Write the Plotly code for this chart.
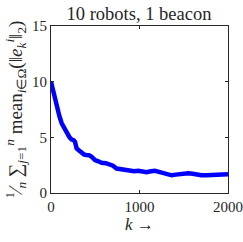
import plotly.graph_objects as go

steps = [0, 30, 64, 95, 121, 150, 177, 210, 233, 255, 271, 290, 320, 346, 375, 403, 430, 459, 497, 535, 572, 620, 666, 700, 741, 780, 817, 850, 892, 940, 986, 1030, 1080, 1130, 1174, 1220, 1268, 1320, 1363, 1410, 1457, 1500, 1551, 1600, 1645, 1700, 1758, 1810, 1871, 1930, 2000]
err = [10.0, 8.9, 7.6, 6.9, 6.26, 5.8, 5.36, 5.0, 4.8, 4.75, 4.6, 4.0, 3.8, 3.57, 3.45, 3.41, 3.4, 3.26, 2.96, 2.85, 2.72, 2.68, 2.6, 2.45, 2.2, 2.15, 2.07, 2.0, 1.92, 1.95, 2.0, 1.9, 1.86, 1.95, 2.0, 1.9, 1.77, 1.7, 1.59, 1.65, 1.7, 1.72, 1.77, 1.72, 1.62, 1.6, 1.59, 1.62, 1.59, 1.62, 1.68]

x_ticks = [0, 1000, 2000]
y_ticks = [0, 5, 10, 15]

title_text = "10 robots, 1 beacon"
x_label = "<i>k</i> →"
y_label = "<sup>1</sup>⁄<sub><i>n</i></sub> ∑<sub><i>j</i>=1</sub><sup><i>n</i></sup> mean<sub><i>i</i>∈Ω</sub>(‖<i>e</i><sub><i>k</i></sub><sup><i>i</i></sup>‖<sub>2</sub>)"

font = "'Liberation Serif', 'Times New Roman', serif"
ink = "#262626"

fig = go.Figure()
fig.add_trace(go.Scatter(x=steps, y=err, mode="lines",
                         line=dict(color="#0000ff", width=4.5),
                         showlegend=False, hoverinfo="skip"))

axis_common = dict(showgrid=False, zeroline=False, showline=True, linecolor=ink,
                   linewidth=1, mirror="ticks", ticks="inside", ticklen=3,
                   tickcolor=ink, automargin=False, ticklabeloverflow="allow",
                   tickfont=dict(family=font, size=15, color=ink))

fig.update_layout(
    width=243, height=242,
    margin=dict(l=51, r=15, t=26, b=49, autoexpand=False),
    font=dict(family=font, size=15, color=ink),
    plot_bgcolor="white", paper_bgcolor="white",
    title=dict(text=title_text, x=0.572, xanchor="center", y=0.946, yanchor="middle",
               font=dict(family=font, size=18.5, color=ink)),
    xaxis=dict(range=[0, 2000], tickvals=x_ticks, ticktext=[str(v) for v in x_ticks],
               title=dict(text=x_label, font=dict(family=font, size=17, color=ink), standoff=2),
               **axis_common),
    yaxis=dict(range=[0, 15], tickvals=y_ticks, ticktext=[str(v) for v in y_ticks],
               title=dict(text=y_label, font=dict(family=font, size=19, color=ink), standoff=4),
               **axis_common),
)

fig.write_html("out.html", config={"displayModeBar": False, "staticPlot": True},
               post_script="document.body.style.margin='0';document.body.style.overflow='hidden';")
